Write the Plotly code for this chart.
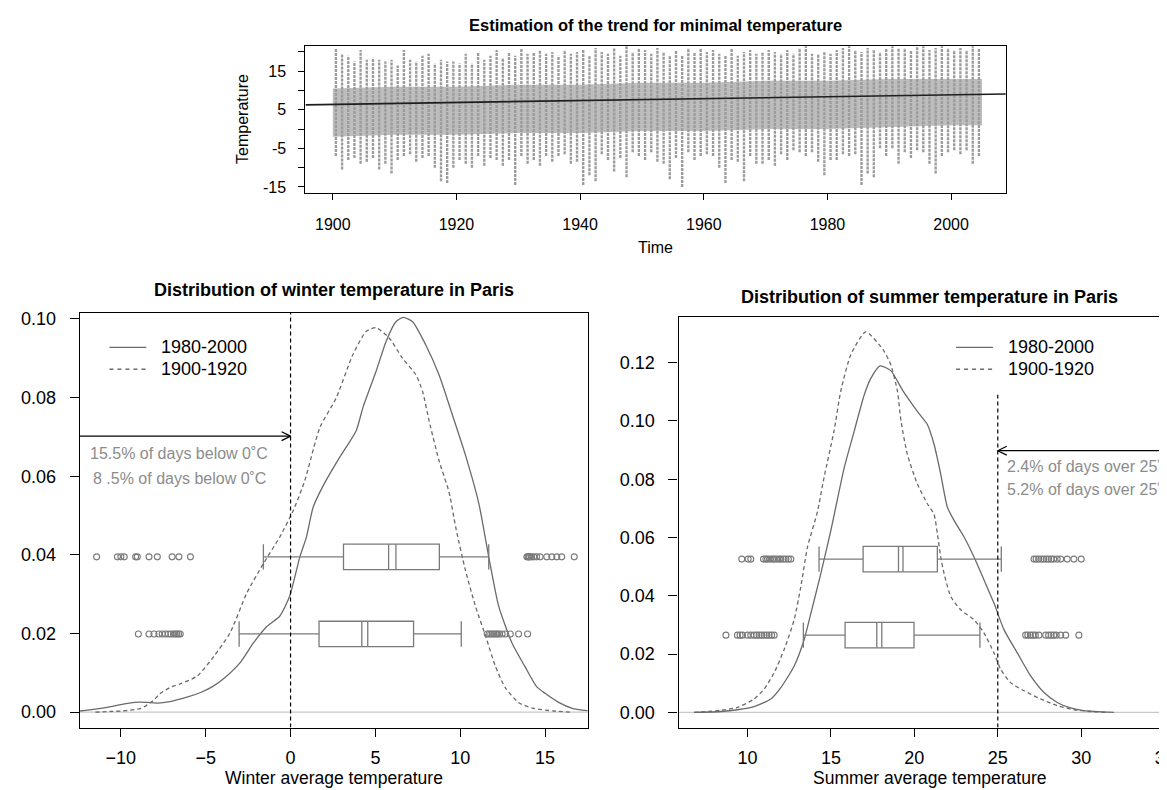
import plotly.graph_objects as go

W, H = 1167, 790

# ---------------- data: top panel (daily minimal temperature, per-year extremes) -------------
years = list(range(1900, 2005))
year_max = [21, 19.5, 19, 17.5, 20.5, 18, 18.5, 18, 17.5, 18, 16.5, 20.5, 18, 17.5, 19, 19.5, 17, 18, 17.5, 17.5,
            17, 19.5, 17, 20, 18, 19, 20.5, 18.5, 20, 19, 21, 19.5, 20, 20.5, 19.5, 20, 19, 20.5, 19.5, 20,
            20.5, 19, 21, 20, 19.5, 21, 19, 21.5, 20, 21, 20.5, 19.5, 21, 20, 19, 20.5, 19, 21, 20, 21,
            20, 20.5, 19.5, 19, 21, 19, 20, 20.5, 19.5, 20, 20.5, 20, 19.5, 20.5, 19.5, 21, 21.5, 19.5, 19.5, 20,
            19.5, 20.5, 21, 21.5, 20.5, 20, 21, 20.5, 20, 21, 21.5, 21, 21, 20.5, 21.5, 21.5, 20.5, 21, 21.5, 21,
            20.5, 21, 20.5, 21.5, 21]
year_min = [-7, -10.5, -8, -7.5, -9, -8.5, -7.5, -10.5, -9, -11.5, -8, -7, -6.5, -8.5, -7.5, -7, -10, -13.5, -14, -10,
            -8, -9, -10, -7, -9.5, -7.5, -8, -9.5, -8, -14.5, -7, -9, -8, -9.5, -7, -8.5, -7, -6.5, -9, -8.5,
            -14.5, -12, -13.5, -6.5, -8, -11, -7.5, -12.5, -6, -7, -8, -6, -8.5, -9, -13, -7.5, -15, -6, -8, -7,
            -6.5, -7, -10, -14, -8, -8.5, -13.5, -7, -9, -9, -8, -9.5, -6.5, -8, -5.5, -6, -7, -6, -8.5, -12,
            -8, -8, -6.5, -7, -6.5, -14.5, -11.5, -12.5, -5, -7, -5, -9, -6, -7.5, -5.5, -6, -9, -11.5, -7, -6,
            -5.5, -6.5, -5.5, -9, -7]
band_years = [1900, 1910, 1920, 1930, 1940, 1950, 1960, 1970, 1980, 1990, 2000, 2005]
band_lo = [-2, -1.5, -1.5, -1, -1, -0.5, -0.5, 0, 0, 0.5, 1, 1]
band_hi = [10.5, 11, 11, 11.5, 11.5, 12, 12, 12.5, 12.5, 13, 13, 13]
trend_years = [1900, 2005]
trend_vals = [6.4, 9.0]

# ---------------- data: winter densities ----------------
w_new_x = [-12.4, -11.5, -10.5, -9.8, -9.2, -8.5, -7.8, -7.2, -6.1, -5.3, -4.6, -3.95, -2.97, -2.19, -1.4, -0.64,
           -0.06, 0.55, 0.94, 1.33, 1.91, 2.89, 3.87, 4.26, 5.04, 5.63, 6.21, 6.64, 7.19, 7.97, 8.75, 9.53, 10.3,
           11.1, 11.68, 12.27, 13.05, 13.8, 14.5, 15.0, 15.8, 16.6, 17.5]
w_new_y = [0.0003, 0.0008, 0.0015, 0.0021, 0.0025, 0.0025, 0.0023, 0.0026, 0.0038, 0.0050, 0.0065, 0.0085, 0.0126,
           0.0176, 0.0218, 0.0244, 0.0294, 0.0395, 0.0446, 0.0521, 0.0575, 0.0648, 0.0716, 0.0774, 0.0867, 0.0943,
           0.0993, 0.1004, 0.0993, 0.0934, 0.0858, 0.0757, 0.0655, 0.0530, 0.0395, 0.0269, 0.0176, 0.0117, 0.0065,
           0.0048, 0.0025, 0.0010, 0.0004]
w_old_x = [-11.5, -10.5, -9.9, -8.8, -8.1, -7.7, -7.0, -6.5, -5.5, -4.5, -3.56, -2.58, -1.6, -0.63, 0.16, 0.84,
           1.72, 2.7, 3.67, 4.45, 5.04, 5.82, 6.6, 7.39, 7.78, 8.17, 8.75, 9.34, 9.73, 10.3, 10.9, 11.5, 12.07,
           12.66, 13.45, 14.3, 15.5, 16.6]
w_old_y = [0.0, 0.0002, 0.0003, 0.0010, 0.0029, 0.0047, 0.0065, 0.0072, 0.0092, 0.0143, 0.0202, 0.0303, 0.0378,
           0.0446, 0.0513, 0.0589, 0.0723, 0.0800, 0.0909, 0.0968, 0.0978, 0.0951, 0.0900, 0.0858, 0.0816, 0.0740,
           0.0640, 0.0560, 0.0471, 0.0362, 0.0269, 0.0193, 0.0117, 0.0062, 0.0024, 0.0010, 0.0003, 0.0]

# ---------------- data: summer densities ----------------
s_new_x = [6.8, 8.4, 9.4, 10.4, 11.4, 12.0, 12.8, 13.4, 13.8, 14.4, 15.0, 15.8, 16.4, 17.0, 17.4, 17.95, 18.6,
           19.3, 20.18, 20.78, 21.18, 21.58, 21.98, 22.38, 22.98, 23.57, 24.17, 24.77, 25.37, 26.17, 26.97,
           27.77, 28.56, 29.36, 30.16, 31.96]
s_new_y = [0.0, 0.0003, 0.0009, 0.0020, 0.0046, 0.0085, 0.0159, 0.0250, 0.0340, 0.0477, 0.0625, 0.0840, 0.0966,
           0.1090, 0.1147, 0.1189, 0.1172, 0.1105, 0.1033, 0.0988, 0.0920, 0.0818, 0.0704, 0.0659, 0.0602, 0.0534,
           0.0455, 0.0375, 0.0284, 0.0204, 0.0125, 0.0068, 0.0034, 0.0015, 0.0006, 0.0]
s_old_x = [6.8, 8.4, 9.4, 10.4, 11.0, 11.6, 12.2, 12.8, 13.2, 13.6, 14.2, 14.59, 15.19, 15.59, 16.19, 17.09,
           17.99, 18.2, 18.59, 18.99, 19.2, 19.58, 20.18, 20.78, 21.18, 21.38, 21.58, 21.78, 22.18, 22.78, 23.57,
           24.17, 24.77, 25.17, 25.77, 26.57, 27.57, 28.56, 29.56, 30.55, 31.5]
s_old_y = [0.0, 0.0007, 0.0017, 0.0046, 0.0080, 0.0136, 0.0216, 0.0318, 0.0432, 0.0568, 0.0690, 0.0806, 0.0966,
           0.1102, 0.1227, 0.1306, 0.1255, 0.1238, 0.1193, 0.1102, 0.1000, 0.0886, 0.0784, 0.0716, 0.0680, 0.0613,
           0.0534, 0.0477, 0.0398, 0.0352, 0.0318, 0.0273, 0.0204, 0.0148, 0.0102, 0.0074, 0.0046, 0.0023,
           0.0009, 0.0003, 0.0]

# ---------------- data: boxplots (low whisker, q1, median, mean, q3, high whisker) ----------------
w_new_box = dict(pos=0.0395, lo=-1.6, q1=3.12, med=5.78, mean=6.21, q3=8.77, hi=11.68,
                 out=[-11.43, -10.2, -10.0, -9.8, -9.13, -9.03, -8.34, -7.85, -6.98, -6.58, -5.9,
                      13.93, 14.0, 14.05, 14.1, 14.2, 14.33, 14.5, 14.71, 15.1, 15.4, 15.69, 15.98, 16.72])
w_old_box = dict(pos=0.0199, lo=-3.03, q1=1.68, med=4.2, mean=4.55, q3=7.25, hi=10.06,
                 out=[-8.97, -8.34, -8.05, -7.76, -7.56, -7.38, -7.2, -7.05, -6.9, -6.8, -6.7, -6.6, -6.5,
                      11.59, 11.7, 11.8, 11.9, 12.0, 12.1, 12.2, 12.3, 12.47, 12.66, 12.95, 13.44, 13.97])
s_new_box = dict(pos=0.0526, lo=14.29, q1=16.93, med=19.05, mean=19.32, q3=21.38, hi=25.21,
                 out=[9.66, 10.04, 10.2, 10.96, 11.1, 11.2, 11.35, 11.5, 11.6, 11.75, 11.9, 12.0, 12.15, 12.3,
                      12.45, 12.6, 27.17, 27.3, 27.45, 27.6, 27.75, 27.9, 28.05, 28.2, 28.35, 28.56, 28.77,
                      29.16, 29.56, 30.0])
s_old_box = dict(pos=0.0265, lo=13.35, q1=15.85, med=17.75, mean=18.05, q3=19.98, hi=23.93,
                 out=[8.71, 9.4, 9.56, 9.7, 10.0, 10.2, 10.4, 10.55, 10.7, 10.85, 11.0, 11.15, 11.3, 11.45, 11.6,
                      26.67, 26.8, 26.95, 27.1, 27.25, 27.47, 27.87, 28.05, 28.2, 28.35, 28.5, 28.77, 29.07, 29.86])

legend_labels = ["1980-2000", "1900-1920"]
winter_texts = ["15.5% of days below 0˚C", "8 .5% of days below 0˚C"]
summer_texts = ["2.4% of days over 25˚C", "5.2% of days over 25˚C"]
winter_threshold = 0
summer_threshold = 25

# ---------------- layout geometry (pixels) ----------------
TOP = dict(x0=299, x1=1003, y0=35, y1=183, xr=[1895.58, 2008.85], yr=[-16.47, 21.61])
WIN = dict(x0=72, x1=583, y0=304, y1=722, xr=[-12.43, 17.53], yr=[-0.0039, 0.1016])
SUM = dict(x0=674, x1=1167, y0=308, y1=722, xr=[5.87, 35.26], yr=[-0.0052, 0.1358])


def pxp(x):
    return x / W


def pyp(y):
    return 1 - y / H


def dx(P, pix):  # pixels -> data units along x
    return pix * (P['xr'][1] - P['xr'][0]) / (P['x1'] - P['x0'])


def dy(P, pix):
    return pix * (P['yr'][1] - P['yr'][0]) / (P['y1'] - P['y0'])


FONT = "Liberation Sans, Arial, sans-serif"
CURVE = "#6a6a6a"
BOXC = "#7a7a7a"
GREYTXT = "#8c8c8c"

fig = go.Figure()

# ---- top panel ----
fig.add_trace(go.Scatter(x=band_years, y=band_lo, mode="lines", line=dict(width=0, color="#bcbcbc"),
                         xaxis="x", yaxis="y", showlegend=False, hoverinfo="skip"))
fig.add_trace(go.Scatter(x=band_years, y=band_hi, mode="lines", line=dict(width=0, color="#bcbcbc"),
                         fill="tonexty", fillcolor="#bdbdbd", xaxis="x", yaxis="y", showlegend=False,
                         hoverinfo="skip"))
sx, sy = [], []
for yr, lo, hi in zip(years, year_min, year_max):
    sx += [yr + 0.5, yr + 0.5, None]
    sy += [lo, hi, None]
fig.add_trace(go.Scatter(x=sx, y=sy, mode="lines", line=dict(width=2.4, color="#9c9c9c", dash="3px,1px"),
                         xaxis="x", yaxis="y", showlegend=False, hoverinfo="skip"))
slope = (trend_vals[1] - trend_vals[0]) / (trend_years[1] - trend_years[0])
tx = TOP['xr']
ty = [trend_vals[0] + slope * (t - trend_years[0]) for t in tx]
fig.add_trace(go.Scatter(x=tx, y=ty, mode="lines", line=dict(width=1.7, color="#1e1e1e"),
                         xaxis="x", yaxis="y", showlegend=False, hoverinfo="skip"))

shapes = []
annotations = []


def add_density(xs, ys, dash, xa, ya):
    fig.add_trace(go.Scatter(x=xs, y=ys, mode="lines",
                             line=dict(width=1.3, color=CURVE, dash=dash, shape="spline", smoothing=0.6),
                             xaxis=xa, yaxis=ya, showlegend=False, hoverinfo="skip"))


def add_box(b, P, xa, ya):
    half = dy(P, 12.8)
    c = b['pos']
    xr, yr = xa, ya
    line = dict(color=BOXC, width=1.3)
    shapes.append(dict(type="line", xref=xr, yref=yr, x0=b['lo'], x1=b['q1'], y0=c, y1=c, line=line))
    shapes.append(dict(type="line", xref=xr, yref=yr, x0=b['q3'], x1=b['hi'], y0=c, y1=c, line=line))
    for v in (b['lo'], b['hi']):
        shapes.append(dict(type="line", xref=xr, yref=yr, x0=v, x1=v, y0=c - half, y1=c + half, line=line))
    shapes.append(dict(type="rect", xref=xr, yref=yr, x0=b['q1'], x1=b['q3'], y0=c - half, y1=c + half,
                       line=line, fillcolor="rgba(0,0,0,0)"))
    for v in (b['med'], b['mean']):
        shapes.append(dict(type="line", xref=xr, yref=yr, x0=v, x1=v, y0=c - half, y1=c + half, line=line))
    fig.add_trace(go.Scatter(x=b['out'], y=[c] * len(b['out']), mode="markers",
                             marker=dict(symbol="circle-open", size=6, color=BOXC, line=dict(width=1.1)),
                             xaxis=xa, yaxis=ya, showlegend=False, hoverinfo="skip"))


# ---- winter panel ----
fig.add_trace(go.Scatter(x=WIN['xr'], y=[0, 0], mode="lines", line=dict(width=1.2, color="#c8c8c8"),
                         xaxis="x2", yaxis="y2", showlegend=False, hoverinfo="skip"))
add_density(w_new_x, w_new_y, "solid", "x2", "y2")
add_density(w_old_x, w_old_y, "4px,3px", "x2", "y2")
add_box(w_new_box, WIN, "x2", "y2")
add_box(w_old_box, WIN, "x2", "y2")

# ---- summer panel ----
fig.add_trace(go.Scatter(x=SUM['xr'], y=[0, 0], mode="lines", line=dict(width=1.2, color="#c8c8c8"),
                         xaxis="x3", yaxis="y3", showlegend=False, hoverinfo="skip"))
add_density(s_new_x, s_new_y, "solid", "x3", "y3")
add_density(s_old_x, s_old_y, "4px,3px", "x3", "y3")
add_box(s_new_box, SUM, "x3", "y3")
add_box(s_old_box, SUM, "x3", "y3")

# thresholds and arrows
blk = dict(color="black", width=1.2)
shapes.append(dict(type="line", xref="x2", yref="y2", x0=winter_threshold, x1=winter_threshold,
                   y0=WIN['yr'][0], y1=WIN['yr'][1], line=dict(color="black", width=1.2, dash="4px,3px")))
w_arrow_y = 0.0702
shapes.append(dict(type="line", xref="x2", yref="y2", x0=WIN['xr'][0], x1=winter_threshold,
                   y0=w_arrow_y, y1=w_arrow_y, line=blk))
for s in (1, -1):
    shapes.append(dict(type="line", xref="x2", yref="y2", x0=winter_threshold - dx(WIN, 9),
                       x1=winter_threshold, y0=w_arrow_y + s * dy(WIN, 4.5), y1=w_arrow_y, line=blk))

shapes.append(dict(type="line", xref="x3", yref="y3", x0=summer_threshold, x1=summer_threshold,
                   y0=SUM['yr'][0], y1=0.109, line=dict(color="black", width=1.2, dash="4px,3px")))
s_arrow_y = 0.0898
shapes.append(dict(type="line", xref="x3", yref="y3", x0=summer_threshold, x1=SUM['xr'][1] + 2,
                   y0=s_arrow_y, y1=s_arrow_y, line=blk))
for s in (1, -1):
    shapes.append(dict(type="line", xref="x3", yref="y3", x0=summer_threshold + dx(SUM, 9),
                       x1=summer_threshold, y0=s_arrow_y + s * dy(SUM, 4.5), y1=s_arrow_y, line=blk))

# annotation texts
for txt, yv in zip(winter_texts, [0.0658, 0.0595]):
    annotations.append(dict(text=txt, x=-6.57, y=yv, xref="x2", yref="y2", showarrow=False,
                            font=dict(family=FONT, size=16, color=GREYTXT), xanchor="center", yanchor="middle"))
for txt, yv in zip(summer_texts, [0.0844, 0.0766]):
    annotations.append(dict(text=txt, x=25.45, y=yv, xref="x3", yref="y3", showarrow=False,
                            font=dict(family=FONT, size=16, color=GREYTXT), xanchor="left", yanchor="middle"))

# manual legends
for (lx0, lx1, tx0) in [(102, 139, 152), (953, 990, 1003)]:
    for lab, ly, dash in zip(legend_labels, [339, 361], ["solid", "4px,4px"]):
        shapes.append(dict(type="line", xref="paper", yref="paper", x0=pxp(lx0), x1=pxp(lx1),
                           y0=pyp(ly), y1=pyp(ly), line=dict(color=CURVE, width=1.3, dash=dash)))
        annotations.append(dict(text=lab, x=pxp(tx0), y=pyp(ly), xref="paper", yref="paper", showarrow=False,
                                font=dict(family=FONT, size=18, color="black"), xanchor="left",
                                yanchor="middle"))


# titles
def ptext(txt, x, y, size, bold=False, angle=0):
    annotations.append(dict(text=("<b>%s</b>" % txt) if bold else txt, x=pxp(x), y=pyp(y), xref="paper",
                            yref="paper", showarrow=False, textangle=angle,
                            font=dict(family=FONT, size=size, color="black"),
                            xanchor="center", yanchor="middle"))


ptext("Estimation of the trend for minimal temperature", 651, 14, 16.5, bold=True)
ptext("Temperature", 235, 109, 16, angle=-90)
ptext("Time", 651, 238, 16)
ptext("Distribution of winter temperature in Paris", 327.5, 281, 18, bold=True)
ptext("Distribution of summer temperature in Paris", 926.7, 288, 18, bold=True)
ptext("Winter average temperature", 328, 773, 17.5)
ptext("Summer average temperature", 926.4, 773, 17.5)


def axis(P, horizontal, **kw):
    if horizontal:
        dom = [pxp(P['x0']), pxp(P['x1'])]
        rng = P['xr']
    else:
        dom = [pyp(P['y1']), pyp(P['y0'])]
        rng = P['yr']
    d = dict(domain=dom, range=rng, showline=True, linecolor="black", linewidth=1.2, mirror=True,
             ticks="outside", tickcolor="black", tickwidth=1.1, showgrid=False, zeroline=False,
             fixedrange=True, tickfont=dict(family=FONT, size=18, color="black"))
    d.update(kw)
    return d


top_ticks_y = [-15, -10, -5, 0, 5, 10, 15, 20]
top_tick_text_y = ["-15", "", "-5", "", "5", "", "15", ""]
fig.update_layout(
    width=W, height=H, margin=dict(l=0, r=0, t=0, b=0), paper_bgcolor="white", plot_bgcolor="white",
    showlegend=False,
    xaxis=axis(TOP, True, anchor="y", tickvals=[1900, 1920, 1940, 1960, 1980, 2000], ticklen=6,
               tickfont=dict(family=FONT, size=16, color="black"), ticklabelstandoff=11),
    yaxis=axis(TOP, False, anchor="x", tickvals=top_ticks_y, ticktext=top_tick_text_y, ticklen=6,
               tickfont=dict(family=FONT, size=16, color="black"), ticklabelstandoff=9),
    xaxis2=axis(WIN, True, anchor="y2", tickvals=[-10, -5, 0, 5, 10, 15], ticklen=8, ticklabelstandoff=6),
    yaxis2=axis(WIN, False, anchor="x2", tickvals=[0, 0.02, 0.04, 0.06, 0.08, 0.10], tickformat=".2f",
                ticklen=9, ticklabelstandoff=10),
    xaxis3=axis(SUM, True, anchor="y3", tickvals=[10, 15, 20, 25, 30, 35], ticklen=8, ticklabelstandoff=6,
                ticklabeloverflow="allow"),
    yaxis3=axis(SUM, False, anchor="x3", mirror=False, tickvals=[0, 0.02, 0.04, 0.06, 0.08, 0.10, 0.12],
                tickformat=".2f", ticklen=9, ticklabelstandoff=10),
    shapes=shapes, annotations=annotations,
)

fig.write_html("out.html")
